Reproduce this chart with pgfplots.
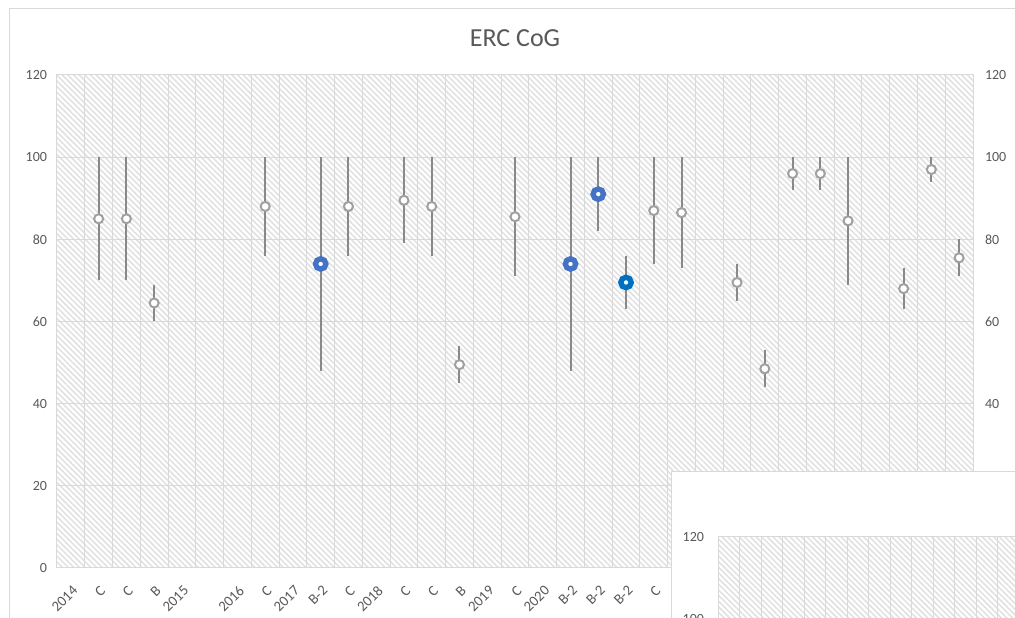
\documentclass[border=0pt]{standalone}
\usepackage{pgfplots}
\pgfplotsset{compat=1.18}
\usepackage{fontspec}
\setmainfont{Carlito}
\usetikzlibrary{patterns.meta}
\definecolor{gridc}{RGB}{217,217,217}
\definecolor{txtc}{RGB}{89,89,89}
\definecolor{barc}{RGB}{137,137,137}
\definecolor{mkc}{RGB}{160,160,160}
\definecolor{blueA}{RGB}{68,114,196}
\definecolor{blueB}{RGB}{0,112,192}
\definecolor{hatchc}{RGB}{224,224,224}
\pgfplotsset{
  erc/.style={
    scale only axis,
    ymin=0, ymax=120, ytick={0,20,...,120},
    major tick length=0pt, minor tick length=0pt,
    tick label style={font=\fontsize{10.5}{12}\selectfont, text=txtc},
    /pgf/number format/assume math mode=true,
    axis line style={draw=gridc, line width=0.75pt},
    grid style={draw=gridc, line width=0.75pt},
    minor grid style={draw=gridc, line width=0.75pt},
    axis background/.style={pattern={Lines[angle=-45,distance=3pt,line width=1.1pt]}, pattern color=hatchc},
  },
}
\begin{document}
\begin{tikzpicture}
\useasboundingbox (0,0) rectangle (761.25pt,463.5pt);
\clip (0,0) rectangle (761.25pt,463.5pt);
\fill[white] (0,0) rectangle (761.25pt,463.5pt);
\draw[gridc, line width=0.75pt] (6.75pt,-10pt) -- (6.75pt,456.75pt) -- (800pt,456.75pt);
\node[font=\fontsize{19.5}{22}\selectfont, text=txtc, anchor=base] at (386.25pt,428.25pt) {ERC CoG};
\begin{axis}[erc,
  at={(42.75pt,37.5pt)}, anchor=south west,
  width=687pt, height=369.75pt,
  xmin=-0.5, xmax=32.5,
  xtick={0,...,32},
  xticklabels={2014,C,C,B,2015,{},2016,C,2017,B-2,C,2018,C,C,B,2019,C,2020,B-2,B-2,B-2,C,{},{},{},{},{},{},{},{},{},{},{}},
  minor xtick={-0.5,0.5,...,32.5},
  xminorgrids=true, ymajorgrids=true,
  xticklabel style={rotate=45, anchor=east, font=\fontsize{11}{12}\selectfont, yshift=-13pt, xshift=-5pt},
  yticklabel style={xshift=-4pt},
]
% error bars
\addplot[draw=none, mark=none, forget plot,
  error bars/.cd, y dir=both, y explicit, error mark=none,
  error bar style={draw=barc, line width=1.5pt}]
  coordinates {
  (1,85) +- (0,15)
  (2,85) +- (0,15)
  (3,64.5) +- (0,4.5)
  (7,88) +- (0,12)
  (9,74) +- (0,26)
  (10,88) +- (0,12)
  (12,89.5) +- (0,10.5)
  (13,88) +- (0,12)
  (14,49.5) +- (0,4.5)
  (16,85.5) +- (0,14.5)
  (18,74) +- (0,26)
  (19,91) +- (0,9)
  (20,69.5) +- (0,6.5)
  (21,87) +- (0,13)
  (22,86.5) +- (0,13.5)
  (24,69.5) +- (0,4.5)
  (25,48.5) +- (0,4.5)
  (26,96) +- (0,4)
  (27,96) +- (0,4)
  (28,84.5) +- (0,15.5)
  (30,68) +- (0,5)
  (31,97) +- (0,3)
  (32,75.5) +- (0,4.5)
  };
% grey open markers
\addplot[only marks, mark=*, mark size=3.4pt,
  mark options={draw=mkc, fill=white, line width=1.5pt}]
  coordinates {
  (1,85) (2,85) (3,64.5) (7,88) (10,88) (12,89.5) (13,88) (14,49.5)
  (16,85.5) (21,87) (22,86.5) (24,69.5) (25,48.5) (26,96) (27,96)
  (28,84.5) (30,68) (31,97) (32,75.5)
  };
% blue markers
\addplot[only marks, mark=*, mark size=3.9pt,
  mark options={draw=blueA, fill=white, line width=4pt}]
  coordinates {(9,74) (18,74) (19,91)};
\addplot[only marks, mark=*, mark size=3.9pt,
  mark options={draw=blueB, fill=white, line width=4pt}]
  coordinates {(20,69.5)};
\end{axis}
% right-hand y labels
\begin{axis}[erc,
  at={(42.75pt,37.5pt)}, anchor=south west,
  width=687pt, height=369.75pt,
  xmin=-0.5, xmax=32.5,
  hide x axis, axis y line*=right,
  axis background/.style={},
  yticklabel style={xshift=5.5pt},
]
\addplot[draw=none, forget plot] coordinates {(0,0)};
\end{axis}
% overlapping second chart
\draw[gridc, line width=0.75pt, fill=white] (503.25pt,-10pt) rectangle (800pt,109.5pt);
\begin{axis}[erc,
  at={(538.5pt,60.75pt)}, anchor=north west,
  width=322.5pt, height=369.75pt,
  xmin=0, xmax=20, xtick={0,...,20}, xticklabels={},
  xmajorgrids=true, ymajorgrids=true,
  yticklabel style={xshift=-7pt},
]
\addplot[draw=none, forget plot] coordinates {(0,0)};
\end{axis}
\end{tikzpicture}
\end{document}
